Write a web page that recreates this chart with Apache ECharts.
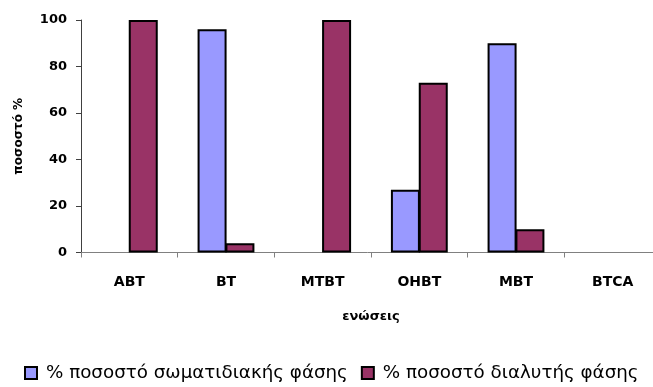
<!DOCTYPE html>
<html>
<head>
<meta charset="utf-8">
<script src="https://cdn.jsdelivr.net/npm/echarts@6/dist/echarts.min.js"></script>
<style>
  html, body { margin: 0; padding: 0; background: #fff; overflow: hidden; }
  #chart { width: 653px; height: 387px; }
</style>
</head>
<body>
<div id="chart"></div>
<script>
// Compounds on the x axis
const categories = ['ABT', 'BT', 'MTBT', 'OHBT', 'MBT', 'BTCA'];
// Percentage found in the particulate phase (null = not present)
const particulate = [null, 96, null, 27, 90, null];
// Percentage found in the dissolved phase
const dissolved = [100, 4, 100, 73, 10, null];
const yTicks = [0, 20, 40, 60, 80, 100];

const seriesNames = ['% ποσοστό σωματιδιακής φάσης', '% ποσοστό διαλυτής φάσης'];
const FONT = 'DejaVu Sans';

const chart = echarts.init(document.getElementById('chart'), null, { renderer: 'canvas' });

chart.setOption({
  animation: false,
  backgroundColor: '#ffffff',
  // the last category runs slightly past the right edge of the canvas
  grid: {
    left: 81, top: 20, width: 580, height: 232.5,
    containLabel: false,
    outerBoundsMode: 'none'
  },
  legend: {
    top: 359,
    left: 19,
    itemWidth: 12,
    itemHeight: 12,
    itemGap: 13,
    icon: 'rect',
    itemStyle: { borderColor: '#000', borderWidth: 2 },
    textStyle: { fontFamily: FONT, fontSize: 18.3, color: '#000', padding: [0, 0, 0, 4] },
    data: seriesNames
  },
  xAxis: {
    type: 'category',
    data: categories,
    name: 'ενώσεις',
    nameLocation: 'middle',
    nameGap: 58,
    nameTextStyle: { fontFamily: FONT, fontSize: 13, fontWeight: 'bold', color: '#000' },
    axisLine: { lineStyle: { color: '#808080', width: 1 } },
    axisTick: { show: true, length: 5, lineStyle: { color: '#808080' } },
    axisLabel: { margin: 23, fontFamily: FONT, fontSize: 14, fontWeight: 'bold', color: '#000' }
  },
  yAxis: {
    type: 'value',
    min: 0,
    max: 100,
    interval: 20,
    name: 'ποσοστό %',
    nameLocation: 'middle',
    nameGap: 56,
    nameTextStyle: { fontFamily: FONT, fontSize: 12, fontWeight: 'bold', color: '#000' },
    axisLine: { show: true, lineStyle: { color: '#404040', width: 1 } },
    axisTick: { show: true, length: 5, lineStyle: { color: '#404040' } },
    splitLine: { show: false },
    axisLabel: {
      margin: 14,
      fontFamily: FONT, fontSize: 13, fontWeight: 'bold', color: '#000',
      formatter: v => yTicks.includes(v) ? String(v) : ''
    }
  },
  series: [
    {
      name: seriesNames[0],
      type: 'bar',
      data: particulate,
      barWidth: 29,
      barGap: '-4%',
      itemStyle: { color: '#9999FF', borderColor: '#000', borderWidth: 2 }
    },
    {
      name: seriesNames[1],
      type: 'bar',
      data: dissolved,
      barWidth: 29,
      barGap: '-4%',
      itemStyle: { color: '#993366', borderColor: '#000', borderWidth: 2 }
    }
  ]
});
</script>
</body>
</html>
